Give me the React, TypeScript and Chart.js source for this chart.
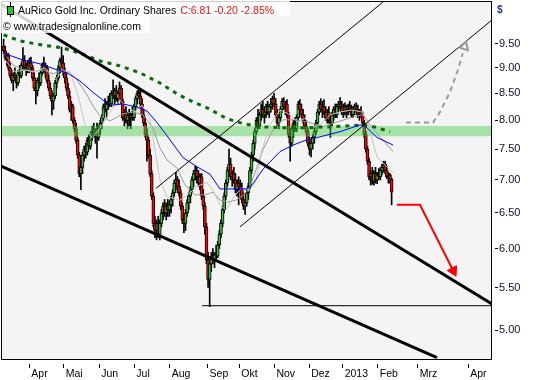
import React, { useEffect, useRef } from 'react';
import Chart from 'chart.js/auto';

// ---------- axis data ----------
const monthTicks = [16.0, 37.3, 59.4, 81.2, 103.2, 126.7, 146.4, 168.2, 189.8, 210.6, 232.4, 257.2, 288.6];
const monthLabels = ['Apr', 'Mai', 'Jun', 'Jul', 'Aug', 'Sep', 'Okt', 'Nov', 'Dez', '2013', 'Feb', 'Mrz', 'Apr'];
const priceTicks = [5.0, 5.5, 6.0, 6.5, 7.0, 7.5, 8.0, 8.5, 9.0, 9.5];

// ---------- candles (daily, one per trading day) ----------
const opens = [
  9.45, 9.35, 9.20, 9.25, 9.00, 8.85, 8.75, 8.85, 8.80, 8.70, 8.90, 8.85, 9.05, 9.15, 9.00, 9.05, 8.95,
  9.10, 9.00, 8.80, 8.60, 8.55, 8.75, 8.70, 8.90, 9.05, 8.95, 9.00, 8.75, 8.60, 8.45, 8.35, 8.45, 8.70, 8.80,
  9.00, 9.15, 9.10, 8.90, 8.80, 8.60, 8.45, 8.20, 8.25, 8.00, 7.85, 7.65, 7.40, 7.10, 7.20,
  7.40, 7.50, 7.45, 7.65, 7.55, 7.75, 7.80, 7.75, 7.85, 7.70, 7.85, 7.95, 8.05, 8.25, 8.20, 8.30, 8.35,
  8.30, 8.50, 8.45, 8.55, 8.40, 8.50, 8.60, 8.35, 8.05, 8.15, 8.00, 8.10, 8.05, 8.10, 8.05, 8.25, 8.40,
  8.50, 8.45, 8.30, 8.10, 7.95, 7.75, 7.65, 7.40, 7.10, 6.75, 6.35, 6.25, 6.35, 6.20, 6.35, 6.50, 6.60, 6.50,
  6.60, 6.55, 6.62, 6.70, 6.80, 6.95, 7.00, 6.90, 6.80, 6.60, 6.40, 6.35, 6.50, 6.65, 6.75, 6.85, 7.00, 7.10, 7.15,
  7.05, 6.95, 7.05, 6.75, 6.60, 6.30, 5.85, 5.60, 5.80, 5.90, 5.85, 5.92, 5.90, 6.05, 6.20, 6.35, 6.55,
  6.75, 6.95, 7.15, 7.25, 7.05, 7.10, 7.00, 6.85, 6.95, 6.90, 6.85, 6.70, 6.60, 6.65, 6.80, 6.90, 7.15, 7.40,
  7.60, 7.80, 8.00, 7.90, 8.10, 8.20, 8.10, 8.15, 8.25, 8.15, 8.25, 8.30, 8.40, 8.30, 8.10, 7.95, 8.05, 8.20,
  8.35, 8.25, 8.30, 8.10, 7.75, 7.60, 7.85, 7.95, 7.85, 8.05, 8.30, 8.20, 8.10, 8.00, 7.90, 7.80, 7.60, 7.50, 7.60,
  7.70, 7.80, 7.95, 8.15, 8.30, 8.20, 8.25, 8.15, 8.05, 8.15, 8.00, 7.95, 8.10, 8.20, 8.10, 8.25, 8.30, 8.25,
  8.15, 8.25, 8.15, 8.20, 8.25, 8.20, 8.10, 8.20, 8.25, 8.20, 8.10, 8.15, 8.10, 7.95, 7.75, 7.50,
  7.30, 7.05, 7.10, 6.98, 7.10, 7.00, 7.08, 7.05, 7.15, 7.20, 7.25, 7.15, 7.05, 7.08, 7.01,
];
const highs = [
  9.60, 9.45, 9.30, 9.30, 9.10, 8.95, 8.90, 9.00, 8.85, 8.95, 9.05, 9.10, 9.42, 9.25, 9.10, 9.15, 9.20,
  9.22, 9.05, 8.90, 8.70, 8.80, 8.90, 8.95, 9.10, 9.22, 9.10, 9.05, 8.85, 8.70, 8.55, 8.50, 8.75, 8.85, 9.05,
  9.20, 9.43, 9.25, 9.00, 8.90, 8.70, 8.55, 8.35, 8.30, 8.05, 7.95, 7.70, 7.45, 7.30, 7.45,
  7.55, 7.60, 7.70, 7.75, 7.80, 7.90, 7.95, 7.85, 7.95, 7.90, 8.00, 8.10, 8.30, 8.40, 8.35, 8.45, 8.50,
  8.55, 8.76, 8.60, 8.65, 8.55, 8.72, 8.65, 8.40, 8.20, 8.25, 8.15, 8.20, 8.15, 8.25, 8.30, 8.45, 8.55,
  8.62, 8.55, 8.40, 8.20, 8.05, 7.85, 7.70, 7.50, 7.15, 6.80, 6.45, 6.40, 6.45, 6.40, 6.55, 6.65, 6.70, 6.65,
  6.70, 6.68, 6.75, 6.85, 7.00, 7.12, 7.05, 7.00, 6.85, 6.65, 6.50, 6.55, 6.70, 6.80, 6.90, 7.05, 7.15, 7.22, 7.20,
  7.15, 7.10, 7.10, 6.85, 6.65, 6.35, 5.95, 5.85, 5.95, 6.00, 5.95, 6.05, 6.10, 6.25, 6.40, 6.60, 6.80,
  7.00, 7.20, 7.50, 7.35, 7.15, 7.20, 7.10, 7.00, 7.05, 7.00, 6.95, 6.80, 6.70, 6.85, 6.95, 7.20, 7.45, 7.65,
  7.85, 8.05, 8.20, 8.15, 8.30, 8.35, 8.25, 8.30, 8.35, 8.30, 8.40, 8.45, 8.50, 8.40, 8.20, 8.10, 8.25, 8.40,
  8.42, 8.35, 8.38, 8.15, 7.85, 7.90, 8.00, 8.05, 8.10, 8.35, 8.38, 8.30, 8.20, 8.10, 8.00, 7.85, 7.70, 7.65, 7.75,
  7.85, 8.00, 8.20, 8.35, 8.40, 8.35, 8.38, 8.25, 8.20, 8.25, 8.10, 8.15, 8.25, 8.30, 8.30, 8.35, 8.42, 8.35,
  8.30, 8.32, 8.28, 8.30, 8.35, 8.28, 8.25, 8.30, 8.32, 8.28, 8.20, 8.25, 8.15, 8.00, 7.80, 7.55,
  7.35, 7.15, 7.20, 7.15, 7.20, 7.12, 7.18, 7.20, 7.25, 7.30, 7.30, 7.22, 7.12, 7.10, 7.03,
];
const lows = [
  9.30, 9.15, 9.05, 8.95, 8.80, 8.70, 8.55, 8.75, 8.60, 8.65, 8.80, 8.80, 8.95, 8.95, 8.85, 8.90, 8.90,
  8.95, 8.75, 8.55, 8.30, 8.45, 8.60, 8.65, 8.85, 8.90, 8.80, 8.70, 8.55, 8.40, 8.10, 8.20, 8.40, 8.60, 8.75,
  8.90, 9.05, 8.85, 8.70, 8.55, 8.40, 8.15, 8.00, 7.95, 7.80, 7.60, 7.35, 7.05, 6.85, 7.10,
  7.30, 7.35, 7.40, 7.50, 7.50, 7.65, 7.70, 7.60, 7.35, 7.65, 7.75, 7.85, 8.00, 8.15, 8.05, 8.20, 8.25,
  8.25, 8.40, 8.30, 8.35, 8.30, 8.45, 8.30, 8.00, 7.90, 7.95, 7.85, 7.90, 7.85, 8.00, 8.00, 8.20, 8.30,
  8.40, 8.25, 8.05, 7.90, 7.70, 7.30, 7.35, 7.05, 6.70, 6.30, 6.15, 6.12, 6.15, 6.12, 6.30, 6.40, 6.45, 6.40,
  6.45, 6.45, 6.50, 6.60, 6.75, 6.85, 6.80, 6.75, 6.55, 6.35, 6.22, 6.25, 6.45, 6.55, 6.65, 6.80, 6.90, 7.00, 6.95,
  6.90, 6.85, 6.70, 6.55, 6.20, 5.80, 5.50, 5.27, 5.70, 5.80, 5.75, 5.85, 5.88, 6.00, 6.15, 6.30, 6.50,
  6.70, 6.90, 7.05, 7.00, 6.90, 6.95, 6.80, 6.75, 6.62, 6.80, 6.65, 6.55, 6.48, 6.60, 6.70, 6.85, 7.10, 7.30,
  7.50, 7.75, 7.85, 7.85, 8.00, 8.05, 7.95, 8.05, 8.10, 8.05, 8.15, 8.20, 8.25, 8.05, 7.90, 7.85, 8.00, 8.15,
  8.20, 8.10, 8.05, 7.70, 7.30, 7.55, 7.70, 7.80, 7.80, 8.00, 8.10, 8.05, 7.95, 7.85, 7.75, 7.55, 7.40, 7.37, 7.50,
  7.60, 7.75, 7.90, 8.10, 8.15, 8.05, 8.10, 8.00, 7.95, 7.95, 7.70, 7.90, 8.00, 8.05, 8.05, 8.15, 8.20, 8.10,
  8.05, 8.10, 8.05, 8.10, 8.15, 8.05, 8.05, 8.10, 8.15, 8.05, 8.00, 8.05, 7.90, 7.70, 7.45, 7.25,
  7.00, 6.92, 6.93, 6.92, 6.95, 6.94, 7.00, 7.00, 7.08, 7.12, 7.10, 7.02, 6.95, 6.95, 6.62,
];
const closes = [
  9.35, 9.20, 9.25, 9.00, 8.85, 8.75, 8.85, 8.80, 8.70, 8.90, 8.85, 9.05, 9.15, 9.00, 9.05, 8.95, 9.10,
  9.00, 8.80, 8.60, 8.55, 8.75, 8.70, 8.90, 9.05, 8.95, 9.00, 8.75, 8.60, 8.45, 8.35, 8.45, 8.70, 8.80, 9.00,
  9.15, 9.10, 8.90, 8.80, 8.60, 8.45, 8.20, 8.25, 8.00, 7.85, 7.65, 7.40, 7.10, 7.20, 7.40,
  7.50, 7.45, 7.65, 7.55, 7.75, 7.80, 7.75, 7.85, 7.70, 7.85, 7.95, 8.05, 8.25, 8.20, 8.30, 8.35, 8.30,
  8.50, 8.45, 8.55, 8.40, 8.50, 8.60, 8.35, 8.05, 8.15, 8.00, 8.10, 8.05, 8.10, 8.05, 8.25, 8.40, 8.50,
  8.45, 8.30, 8.10, 7.95, 7.75, 7.65, 7.40, 7.10, 6.75, 6.35, 6.25, 6.35, 6.20, 6.35, 6.50, 6.60, 6.50, 6.60,
  6.55, 6.62, 6.70, 6.80, 6.95, 7.00, 6.90, 6.80, 6.60, 6.40, 6.35, 6.50, 6.65, 6.75, 6.85, 7.00, 7.10, 7.15, 7.05,
  6.95, 7.05, 6.75, 6.60, 6.30, 5.85, 5.60, 5.80, 5.90, 5.85, 5.92, 5.90, 6.05, 6.20, 6.35, 6.55, 6.75,
  6.95, 7.15, 7.25, 7.05, 7.10, 7.00, 6.85, 6.95, 6.90, 6.85, 6.70, 6.60, 6.65, 6.80, 6.90, 7.15, 7.40, 7.60,
  7.80, 8.00, 7.90, 8.10, 8.20, 8.10, 8.15, 8.25, 8.15, 8.25, 8.30, 8.40, 8.30, 8.10, 7.95, 8.05, 8.20, 8.35,
  8.25, 8.30, 8.10, 7.75, 7.60, 7.85, 7.95, 7.85, 8.05, 8.30, 8.20, 8.10, 8.00, 7.90, 7.80, 7.60, 7.50, 7.60, 7.70,
  7.80, 7.95, 8.15, 8.30, 8.20, 8.25, 8.15, 8.05, 8.15, 8.00, 7.95, 8.10, 8.20, 8.10, 8.25, 8.30, 8.25, 8.15,
  8.25, 8.15, 8.20, 8.25, 8.20, 8.10, 8.20, 8.25, 8.20, 8.10, 8.15, 8.10, 7.95, 7.75, 7.50, 7.30,
  7.05, 7.10, 6.98, 7.10, 7.00, 7.08, 7.05, 7.15, 7.20, 7.25, 7.15, 7.05, 7.08, 7.01, 6.81,
];

// ---------- moving averages ----------
const ma200X = [0, 10.2, 24.5, 36.9, 47.4, 59.9, 72.3, 84.7, 97.1, 107.7, 118.9, 126.3, 138.7, 146.8, 157.4, 171.7, 190.3, 213.3, 223.2, 230.7, 240];
const ma200Y = [9.69, 9.56, 9.47, 9.41, 9.30, 9.14, 9.04, 8.90, 8.70, 8.49, 8.32, 8.23, 8.03, 7.96, 7.89, 7.87, 7.87, 7.90, 7.92, 7.88, 7.80];
const ma50X = [0, 10.2, 22.6, 33.2, 39.4, 47.4, 55.5, 61.7, 67.9, 74.2, 82.9, 89.1, 95.3, 101.5, 111.4, 120.1, 128.2, 134.4, 151.2, 154.9, 161.1, 171.7, 179.8, 188.4, 196.5, 208.9, 221.4, 224.5, 231.9, 241.9];
const ma50Y = [9.30, 9.18, 9.08, 8.96, 8.90, 8.74, 8.52, 8.37, 8.28, 8.30, 8.24, 8.17, 7.96, 7.73, 7.36, 7.21, 7.09, 6.86, 6.86, 6.94, 7.17, 7.46, 7.57, 7.66, 7.71, 7.80, 7.92, 7.90, 7.70, 7.57];
const ma20X = [2.1, 5.8, 12.0, 18.3, 24.5, 30.7, 36.9, 41.2, 45.6, 51.8, 55.5, 59.9, 66.1, 74.2, 80.4, 86.6, 92.8, 97.1, 101.5, 107.7, 112.7, 118.9, 125.1, 130.1, 134.4, 139.4, 144.3, 149.3, 153.0, 157.4, 161.1, 167.3, 173.5, 182.2, 190.3, 198.4, 207.1, 217.0, 223.2, 227.6, 233.8, 241.9];
const ma20Y = [9.22, 9.06, 8.96, 8.92, 8.96, 8.88, 8.96, 8.90, 8.76, 8.47, 8.26, 8.08, 7.99, 8.12, 8.15, 8.10, 7.86, 7.52, 7.32, 7.19, 6.92, 6.77, 6.77, 6.81, 6.69, 6.66, 6.69, 6.77, 6.89, 7.21, 7.49, 7.83, 8.01, 8.01, 7.96, 7.89, 7.97, 8.06, 8.10, 7.92, 7.71, 7.46];
const ma10X = [0.9, 7.1, 13.3, 19.5, 25.7, 31.9, 36.3, 41.2, 46.2, 50.6, 54.9, 59.9, 66.1, 72.3, 77.3, 81.6, 85.9, 90.9, 94.0, 97.1, 101.5, 109.6, 115.8, 120.1, 126.3, 130.1, 134.4, 138.1, 143.7, 148.7, 153.0, 156.8, 160.5, 165.5, 171.7, 177.9, 182.8, 187.2, 191.5, 196.5, 202.7, 208.9, 216.4, 222.6, 225.7, 231.9, 238.1, 241.9];
const ma10Y = [9.16, 8.92, 8.96, 8.92, 9.00, 8.76, 8.92, 8.92, 8.47, 7.92, 7.69, 7.86, 8.15, 8.37, 8.23, 8.15, 8.28, 8.04, 7.49, 7.00, 6.74, 6.69, 6.80, 6.90, 6.96, 6.84, 6.62, 6.54, 6.77, 6.88, 6.84, 7.00, 7.49, 7.92, 8.19, 8.10, 7.97, 8.04, 7.87, 7.92, 8.10, 8.15, 8.19, 8.15, 8.01, 7.37, 7.21, 7.11];

// ---------- drawn studies ----------
const bandTop = 7.90;
const bandBottom = 7.72;
const chanUpperX = [-1.62, 303.35];
const chanUpperY = [10.38, 5.30];
const chanLowerX = [-1.62, 269.2];
const chanLowerY = [7.22, 4.70];
const riseUpperX = [94.7, 235.6];
const riseUpperY = [6.87, 10.43];
const riseLowerX = [146.8, 303.35];
const riseLowerY = [6.30, 10.02];
const supportX = [123.2, 303.35];
const supportY = [5.28, 5.28];
const redArrowX = [244.3, 258.6, 279.3];
const redArrowY = [6.62, 6.62, 5.71];
const grayArrowX = [249.9, 266.7, 271.0, 277.2, 282.2, 285.2];
const grayArrowY = [7.96, 7.96, 8.15, 8.52, 8.96, 9.30];

const X_MIN = -1.62;
const X_MAX = 303.35;

const pts = (xs: number[], ys: number[]) => xs.map((x, i) => ({ x, y: ys[i] }));

const FONT = 'Liberation Sans';

export default function App() {
  const ref = useRef<HTMLCanvasElement | null>(null);

  useEffect(() => {
    document.body.style.margin = '0';
    const canvas = ref.current;
    if (!canvas) return;

    const idx = closes.map((_, i) => i);
    const wickData = idx.map((i) => ({ x: i, y: [lows[i], highs[i]] }));
    const bodyData = idx.map((i) => ({ x: i, y: [opens[i], closes[i]] }));
    const bodyColors = idx.map((i) => (closes[i] >= opens[i] ? '#2fc02f' : '#ff0000'));

    const line = (data: any, color: string, width: number, order: number, extra: any = {}) => ({
      type: 'line',
      data,
      borderColor: color,
      borderWidth: width,
      pointRadius: 0,
      tension: 0,
      fill: false,
      order,
      ...extra,
    });

    const decor = {
      id: 'decor',
      beforeDraw(chart: any) {
        const { ctx, chartArea: a } = chart;
        ctx.save();
        ctx.fillStyle = '#ffffff';
        ctx.fillRect(0, 0, chart.width, chart.height);
        ctx.fillStyle = '#f4f4f4';
        ctx.fillRect(a.left, a.top, a.right - a.left, a.bottom - a.top);
        ctx.restore();
      },
      afterDatasetsDraw(chart: any) {
        const { ctx, chartArea: a } = chart;
        ctx.save();
        ctx.strokeStyle = '#000';
        ctx.lineWidth = 1;
        ctx.strokeRect(a.left + 0.5, a.top + 0.5, a.right - a.left - 1, a.bottom - a.top - 1);
        ctx.restore();
      },
      afterDraw(chart: any) {
        const { ctx } = chart;
        ctx.save();
        ctx.fillStyle = 'rgba(255,255,255,0.82)';
        ctx.fillRect(0, 0, 290, 16);
        ctx.fillRect(0, 16, 150, 17);
        // icon
        ctx.strokeStyle = '#000';
        ctx.lineWidth = 1;
        ctx.beginPath();
        ctx.moveTo(10.5, 2);
        ctx.lineTo(10.5, 17);
        ctx.stroke();
        ctx.fillStyle = '#2fc02f';
        ctx.fillRect(8, 7, 5, 7);
        ctx.strokeRect(7.5, 6.5, 6, 8);
        // texts
        ctx.font = `10.5px "${FONT}"`;
        ctx.textBaseline = 'alphabetic';
        ctx.textAlign = 'left';
        ctx.fillStyle = '#000';
        const t1 = 'AuRico Gold Inc. Ordinary Shares';
        ctx.fillText(t1, 18, 14);
        const w = ctx.measureText(t1).width;
        ctx.fillStyle = '#ee1111';
        ctx.fillText('C:6.81 -0.20 -2.85%', 18 + w + 4, 14);
        ctx.fillStyle = '#000';
        ctx.fillText('© www.tradesignalonline.com', 3, 29.5);
        ctx.fillStyle = '#1c3f94';
        ctx.font = `bold 10px "${FONT}"`;
        ctx.fillText('$', 497, 13);
        ctx.restore();
      },
    };

    const chart = new Chart(canvas, {
      type: 'bar',
      data: {
        datasets: [
          {
            type: 'bar',
            data: wickData,
            backgroundColor: '#000',
            barThickness: 1,
            grouped: false,
            order: 11,
          } as any,
          {
            type: 'bar',
            data: bodyData,
            backgroundColor: bodyColors,
            borderColor: '#000',
            borderWidth: 1,
            borderSkipped: false,
            barThickness: 3,
            grouped: false,
            order: 10,
          } as any,
          line(pts([X_MIN, X_MAX], [bandTop, bandTop]), 'rgba(0,0,0,0)', 0, 5),
          line(pts([X_MIN, X_MAX], [bandBottom, bandBottom]), 'rgba(0,0,0,0)', 0, 5, {
            fill: '-1',
            backgroundColor: 'rgba(70,205,70,0.45)',
          }),
          line(pts(ma10X, ma10Y), '#c6c6c6', 1, 4),
          line(pts(ma20X, ma20Y), '#9a9a9a', 1, 4),
          line(pts(ma50X, ma50Y), '#0000ff', 1, 3),
          line(pts(ma200X, ma200Y), '#0b6b0b', 3, 3, { borderDash: [4, 5], borderCapStyle: 'butt' }),
          line(pts(chanUpperX, chanUpperY), '#000', 3, 2),
          line(pts(chanLowerX, chanLowerY), '#000', 3, 2),
          line(pts(riseUpperX, riseUpperY), '#000', 1, 2),
          line(pts(riseLowerX, riseLowerY), '#000', 1, 2),
          line(pts(supportX, supportY), '#000', 1, 2),
          line(pts(redArrowX, redArrowY), '#ff0000', 2, 1),
          line(pts([redArrowX[2]], [redArrowY[2]]), '#ff0000', 0, 1, {
            pointRadius: 6,
            pointStyle: 'triangle',
            pointRotation: 153,
            pointBackgroundColor: '#ff0000',
            pointBorderColor: '#ff0000',
            pointBorderWidth: 1,
            showLine: false,
          }),
          line(pts(grayArrowX, grayArrowY), '#9a9a9a', 2, 1, { borderDash: [5, 4] }),
          line(pts([286.3], [9.44]), '#9a9a9a', 0, 1, {
            pointRadius: 5,
            pointStyle: 'triangle',
            pointRotation: 18,
            pointBackgroundColor: 'rgba(0,0,0,0)',
            pointBorderColor: '#9a9a9a',
            pointBorderWidth: 2,
            showLine: false,
          }),
        ] as any,
      },
      options: {
        responsive: false,
        animation: false,
        devicePixelRatio: 1,
        events: [],
        layout: { autoPadding: false, padding: { left: 1, top: 1, right: 0, bottom: 0 } },
        plugins: { legend: { display: false }, tooltip: { enabled: false } },
        scales: {
          x: {
            type: 'linear',
            min: X_MIN,
            max: X_MAX,
            bounds: 'data',
            offset: false,
            border: { display: false },
            grid: {
              offset: false,
              drawOnChartArea: false,
              drawTicks: true,
              tickLength: 8,
              tickColor: '#000',
              tickBorderDash: [4, 4],
              tickBorderDashOffset: 4,
            },
            ticks: {
              autoSkip: false,
              maxRotation: 0,
              minRotation: 0,
              align: 'start',
              labelOffset: 2,
              padding: 0,
              color: '#000',
              font: { family: FONT, size: 10.5 },
              callback: (_v: any, i: number) => monthLabels[i],
            },
            afterBuildTicks: (s: any) => {
              s.ticks = monthTicks.map((v) => ({ value: v }));
            },
            afterFit: (s: any) => {
              s.height = 20;
              s.paddingLeft = 0;
              s.paddingRight = 0;
              s.paddingTop = 0;
              s.paddingBottom = 0;
            },
          },
          y: {
            type: 'logarithmic',
            position: 'right',
            min: 4.675,
            max: 10.455,
            bounds: 'data',
            border: { display: false },
            grid: {
              drawOnChartArea: false,
              tickLength: 6,
              tickColor: '#000',
              tickBorderDash: [3, 3],
              tickBorderDashOffset: 3,
            },
            ticks: {
              autoSkip: false,
              padding: 1,
              color: '#101030',
              font: { family: FONT, size: 11 },
              callback: (v: any) => Number(v).toFixed(2),
            },
            afterBuildTicks: (s: any) => {
              s.ticks = priceTicks.map((v) => ({ value: v }));
            },
            afterFit: (s: any) => {
              s.width = 48;
              s.paddingTop = 0;
              s.paddingBottom = 0;
              s.paddingLeft = 0;
              s.paddingRight = 0;
            },
          },
        },
      } as any,
      plugins: [decor],
    });

    return () => chart.destroy();
  }, []);

  return (
    <div style={{ width: 540, height: 380 }}>
      <canvas ref={ref} width={540} height={380} style={{ display: 'block' }} />
    </div>
  );
}
